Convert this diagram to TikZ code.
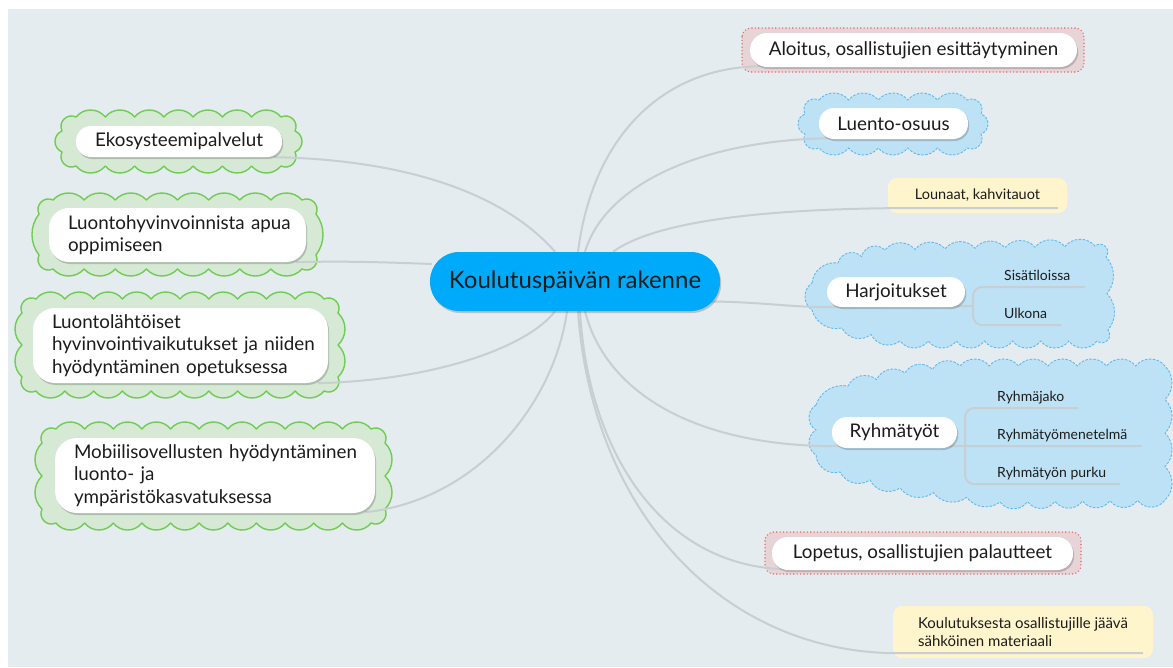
\documentclass[tikz,border=0pt]{standalone}
\usepackage{fontspec}
\setmainfont{Lato}
\usetikzlibrary{calc,shadows}

\pgfdeclarelayer{backdrop}
\pgfdeclarelayer{links}
\pgfsetlayers{backdrop,links,main}

\definecolor{canvas}{RGB}{228,236,240}
\definecolor{linkgray}{RGB}{200,207,211}
\definecolor{rootblue}{RGB}{0,170,250}
\definecolor{leafgreen}{RGB}{213,233,212}
\definecolor{leafgreenline}{RGB}{112,204,82}
\definecolor{skyfill}{RGB}{190,226,245}
\definecolor{skyline}{RGB}{95,185,238}
\definecolor{rosefill}{RGB}{231,212,215}
\definecolor{roseline}{RGB}{232,110,110}
\definecolor{notefill}{RGB}{255,245,205}
\definecolor{ink}{RGB}{28,28,28}

\tikzset{
  link/.style={draw=linkgray, line width=2pt},
  bubble/.style={fill=white, text=ink, inner sep=0pt,
    drop shadow={shadow xshift=1.2pt, shadow yshift=-2pt, opacity=0.18, fill=black}},
  topic/.style={bubble, rounded corners=15pt, font=\fontsize{18.8}{22.5}\selectfont},
  longtopic/.style={bubble, rounded corners=22pt, align=left, inner xsep=19pt,
    text width=#1, font=\fontsize{18.8}{22.5}\selectfont},
  rootnode/.style={fill=rootblue, text=ink, rounded corners=29pt, inner sep=0pt,
    minimum width=290pt, minimum height=59pt, font=\fontsize{24}{28}\selectfont,
    drop shadow={shadow xshift=1.2pt, shadow yshift=-2pt, opacity=0.18, fill=black}},
  note/.style={fill=notefill, rounded corners=9pt, text=ink, inner sep=0pt},
  twig/.style={text=ink, inner sep=0pt, font=\fontsize{14}{17}\selectfont},
  greencloud/.style={fill=leafgreen, draw=leafgreenline, line width=1.4pt, line join=round},
  bluecloud/.style={fill=skyfill, draw=skyline, line width=0.9pt,
    dash pattern=on 2.5pt off 1.5pt},
  rosebox/.style={fill=rosefill, draw=roseline, line width=1.6pt,
    dash pattern=on 0pt off 3.4pt, line cap=round, rounded corners=9pt},
}

% Scalloped outline: each edge of a closed polygon (first vertex repeated at the end,
% listed clockwise on the page) is split into equal circular arcs bulging outwards.
% #1 style, #2 vertex list macro, #3 target arc width, #4 arc height
\newcommand\scallop[4]{%
  \gdef\scpath{}%
  \foreach \qx/\qy [count=\k, remember=\qx as \px (initially 0),
                    remember=\qy as \py (initially 0)] in #2 {%
    \ifnum\k=1
      \xdef\scpath{(\qx,\qy)}%
    \else
      \pgfmathsetmacro\scdx{\qx-\px}%
      \pgfmathsetmacro\scdy{\qy-\py}%
      \pgfmathsetmacro\scL{veclen(\scdx,\scdy)}%
      \pgfmathtruncatemacro\scnb{max(1,round(\scL/#3))}%
      \pgfmathsetmacro\scw{\scL/\scnb}%
      \pgfmathsetmacro\scr{(\scw*\scw/4+#4*#4)/(2*#4)}%
      \pgfmathsetmacro\scth{asin(min(1,\scw/(2*\scr)))}%
      \pgfmathsetmacro\sck{4/3*tan(\scth/2)*\scr}%
      \pgfmathsetmacro\scux{\scdx/\scL}%
      \pgfmathsetmacro\scuy{\scdy/\scL}%
      \pgfmathsetmacro\scau{\sck*cos(\scth)}%
      \pgfmathsetmacro\scan{\sck*sin(\scth)}%
      \pgfmathsetmacro\scox{\scau*\scux+\scan*\scuy}%
      \pgfmathsetmacro\scoy{\scau*\scuy-\scan*\scux}%
      \pgfmathsetmacro\scqx{-\scau*\scux+\scan*\scuy}%
      \pgfmathsetmacro\scqy{-\scau*\scuy-\scan*\scux}%
      \foreach \j in {1,...,\scnb}{%
        \pgfmathsetmacro\scsx{\px+(\j-1)*\scdx/\scnb}%
        \pgfmathsetmacro\scsy{\py+(\j-1)*\scdy/\scnb}%
        \pgfmathsetmacro\scex{\px+\j*\scdx/\scnb}%
        \pgfmathsetmacro\scey{\py+\j*\scdy/\scnb}%
        \pgfmathsetmacro\scAx{\scsx+\scox}%
        \pgfmathsetmacro\scAy{\scsy+\scoy}%
        \pgfmathsetmacro\scBx{\scex+\scqx}%
        \pgfmathsetmacro\scBy{\scey+\scqy}%
        \xdef\scpath{\scpath .. controls (\scAx,\scAy) and (\scBx,\scBy) .. (\scex,\scey)}%
      }%
    \fi
  }%
  \edef\scdo{\noexpand\path[#1] \scpath -- cycle;}\scdo
}

% scalloped box on a chamfered rectangle: style, x1, y1, x2, y2, chamfer, arc width
\newcommand\scallopbox[7]{%
  \pgfmathsetmacro\scva{#2+#6}\pgfmathsetmacro\scvb{#4-#6}%
  \pgfmathsetmacro\scvc{#3+#6}\pgfmathsetmacro\scvd{#5-#6}%
  \edef\sclist{\scva/#3,\scvb/#3,#4/\scvc,#4/\scvd,\scvb/#5,\scva/#5,#2/\scvd,#2/\scvc,\scva/#3}%
  \scallop{#1}{\sclist}{#7}{7}}

\def\harjpts{812/283,838/263,885/250,1095/246,1106/257,1108/330,1097/341,900/341,842/328,812/310,812/283}
\def\ryhpts{816/405,848/386,905/373,960/366,1165/366,1165/500,1000/502,900/488,840/472,816/455,816/405}

\begin{document}
\begin{tikzpicture}[x=1pt, y=-1pt]
\useasboundingbox (0,0) rectangle (1173,667);

\begin{pgfonlayer}{backdrop}
  \fill[white] (0,0) rectangle (1173,667);
  \fill[canvas] (8,9) rectangle (1173,667);

  % green clouds on the left
  \scallopbox{greencloud}{62}{117}{295}{166}{14}{30}
  \scallopbox{greencloud}{39}{200}{316}{269}{14}{30}
  \scallopbox{greencloud}{22}{299}{338}{391}{14}{30}
  \scallopbox{greencloud}{42}{429}{385}{523}{14}{30}

  % blue clouds on the right
  \scallopbox{bluecloud}{805}{100}{981}{148}{14}{32}
  \scallop{bluecloud}{\harjpts}{30}{7}
  \scallop{bluecloud}{\ryhpts}{30}{7}

  % dotted frames
  \path[rosebox] (742,28) rectangle (1084,72);
  \path[rosebox] (765,532) rectangle (1081,574);

  % yellow notes
  \node[note, minimum width=179pt, minimum height=35pt,
    font=\fontsize{14.5}{17}\selectfont] (lou) at (977.5,195.5) {Lounaat, kahvitauot};
  \node[note, minimum width=260pt, minimum height=52pt, align=left,
    font=\fontsize{15}{18}\selectfont] (kou) at (1023,632)
    {Koulutuksesta osallistujille jäävä\\sähköinen materiaali};
\end{pgfonlayer}

% central topic
\node[rootnode] (root) at (575,281.5) {Koulutuspäivän rakenne};

% left branches
\node[topic, minimum width=206pt, minimum height=31pt] (eko) at (179,141.5) {Ekosysteemipalvelut};
\node[longtopic=219pt, minimum height=54pt, rounded corners=20pt] (lhy) at (177.5,235)
  {\mbox{Luontohyvinvoinnista apua}\\\mbox{oppimiseen}};
\node[longtopic=257pt, minimum height=75pt] (lla) at (180.5,345.5)
  {\mbox{Luontolähtöiset}\\\mbox{hyvinvointivaikutukset ja niiden}\\\mbox{hyödyntäminen opetuksessa}};
\node[longtopic=282pt, minimum height=75pt] (mob) at (215,475.5)
  {\mbox{Mobiilisovellusten hyödyntäminen}\\\mbox{luonto- ja}\\\mbox{ympäristökasvatuksessa}};

% right branches
\node[topic, minimum width=327pt, minimum height=34pt, rounded corners=17pt] (alo) at (913.5,50)
  {Aloitus, osallistujien esittäytyminen};
\node[topic, minimum width=149pt, minimum height=31pt] (lue) at (893.5,123.5) {Luento-osuus};
\node[topic, minimum width=138pt, minimum height=30pt] (har) at (896,292) {Harjoitukset};
\node[topic, minimum width=125pt, minimum height=31pt] (ryh) at (894.5,432.5) {Ryhmätyöt};
\node[topic, minimum width=301pt, minimum height=33pt, rounded corners=16pt] (lop) at (922.5,553.5)
  {Lopetus, osallistujien palautteet};

% sub-items
\node[twig, anchor=base west] (sis) at (1004,280.5) {Sisätiloissa};
\node[twig, anchor=base west] (ulk) at (1004,318.5) {Ulkona};
\node[twig, anchor=base west] (rj) at (997,401.5) {Ryhmäjako};
\node[twig, anchor=base west] (rm) at (997,439.5) {Ryhmätyömenetelmä};
\node[twig, anchor=base west] (rp) at (997,477.5) {Ryhmätyön purku};

\coordinate (hj) at (973,306);
\coordinate (rjn) at (965,446);

\begin{pgfonlayer}{links}
  % right side
  \draw[link] ($(root.north)+(3,0)$) .. controls (592,140) and (660,66) .. ($(alo.south west)+(14,-1)$);
  \draw[link] ($(root.north)+(10,0)$) .. controls (605,185) and (700,140) .. ($(lue.south west)+(12,-1)$);
  \draw[link] ($(root.north)+(38,0)$) .. controls (650,225) and (740,210) .. ($(lou.south west)+(0,-5)$)
    -- ($(lou.south east)+(-9,-5)$);
  \draw[link] ($(root.east)+(-8,20)$) .. controls (760,302) and (790,307) .. (har.south west) -- (hj);
  \draw[link] ($(root.south)+(10,0)$) .. controls (605,390) and (690,445) .. ($(ryh.south west)+(0,-2)$)
    -- ($(rm.base east)+(14,6.5)$);
  \draw[link] ($(root.south)+(5,0)$) .. controls (588,450) and (660,565) .. ($(lop.south west)+(12,-1)$);
  \draw[link] ($(root.south)+(3,0)$) .. controls (592,510) and (720,650) .. ($(kou.south west)+(0,-5)$)
    -- ($(kou.south east)+(-10,-5)$);
  % left side
  \draw[link] ($(root.north)+(-20,0)$) .. controls (510,200) and (420,160) .. ($(eko.south east)+(-8,0)$);
  \draw[link] ($(root.west)+(2,-17.5)$) .. controls (380,262) and (340,261) .. ($(lhy.south east)+(-10,0)$);
  \draw[link] ($(root.south)+(-20,0)$) .. controls (530,345) and (440,380) .. ($(lla.south east)+(-10,0)$);
  \draw[link] ($(root.south)+(-8,0)$) .. controls (555,400) and (480,500) .. ($(mob.south east)+(-10,-1)$);
  % sub-item brackets
  \draw[link, rounded corners=9pt] ($(sis.base east)+(14,6.5)$) -| (hj) |- ($(ulk.base east)+(14,6.5)$);
  \draw[link, rounded corners=9pt] ($(rj.base east)+(14,6.5)$) -| (rjn) |- ($(rp.base east)+(14,6.5)$);
\end{pgfonlayer}
\end{tikzpicture}
\end{document}
